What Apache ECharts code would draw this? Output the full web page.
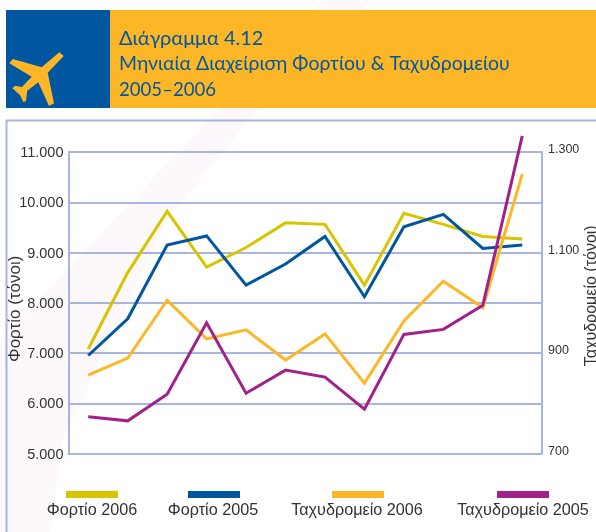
<!DOCTYPE html>
<html><head><meta charset="utf-8">
<style>html,body{margin:0;padding:0;background:#fff}#c{width:596px;height:532px}</style>
<script src="https://cdn.jsdelivr.net/npm/echarts@6/dist/echarts.min.js"></script>
</head><body><div id="c"></div>
<script>
const months = ['1','2','3','4','5','6','7','8','9','10','11','12'];
const cargo2006 = [7080,8600,9820,8710,9100,9590,9560,8350,9780,9560,9320,9270];
const cargo2005 = [6950,7680,9150,9330,8350,8770,9320,8120,9510,9760,9080,9150];
const mail2006 = [856,890,1005,928,946,886,938,840,964,1043,990,1256];
const mail2005 = [773,765,818,960,820,866,852,788,937,947,995,1332];
const seriesNames = ['Φορτίο 2006','Φορτίο 2005','Ταχυδρομείο 2006','Ταχυδρομείο 2005'];
const colors = ['#D8C400','#00569F','#FDB726','#A0218A'];
const titleLines = ['Διάγραμμα 4.12','Μηνιαία Διαχείριση Φορτίου & Ταχυδρομείου','2005–2006'];
const fmt = v => String(v).replace(/\B(?=(\d{3})+$)/g,'.');
const axisCol = '#A8B5DC', font = '"Liberation Sans"', txt = '#333';

const legendRects = [66,188,332,497], legendText = [92,213,357,523];
const graphic = [
 {type:'polygon',silent:true,z:-10,shape:{points:[[323,0],[372,0],[257,110],[167,220],[63,440],[50,532],[0,532],[0,340]]},style:{fill:'#FCF8FB'}},
 {type:'rect',z:1,shape:{x:6,y:10,width:104,height:98},style:{fill:'#00569F'}},
 {type:'rect',z:1,shape:{x:110,y:10,width:486,height:98},style:{fill:'#FDB726'}},
 {type:'polygon',z:2,shape:{points:[[59.3,52.3],[63.7,56],[47.7,72.7],[54,103.3],[49,106],[38.3,82.3],[27.3,90.7],[26,101],[23.3,102],[20,95],[12.3,88.3],[15,85.7],[22,87],[31.7,76.7],[9.3,63.3],[12.7,59],[41.7,67.3]]},style:{fill:'#FDB726'}},
 {type:'text',z:2,style:{text:titleLines[0],x:119,y:39,font:'20px Lato',fill:'#00569F',verticalAlign:'middle'}},
 {type:'text',z:2,style:{text:titleLines[1],x:119,y:64,font:'19.4px Lato',fill:'#00569F',verticalAlign:'middle'}},
 {type:'text',z:2,style:{text:titleLines[2],x:119,y:90,font:'18.6px Lato',fill:'#00569F',verticalAlign:'middle'}},
 {type:'polyline',z:0,shape:{points:[[6.5,532],[6.5,120.5],[596,120.5]]},style:{stroke:axisCol,lineWidth:2,fill:'none'}},
];
seriesNames.forEach((n,i)=>{
 graphic.push({type:'rect',shape:{x:legendRects[i],y:491,width:52,height:7},style:{fill:colors[i]}});
 graphic.push({type:'text',style:{text:n,x:legendText[i],y:511,font:'16.2px '+font,fill:txt,align:'center',verticalAlign:'middle'}});
});
const line = (i,data,yi)=>({name:seriesNames[i],type:'line',data,yAxisIndex:yi,symbol:'none',clip:false,
  lineStyle:{color:colors[i],width:3,join:'miter'},itemStyle:{color:colors[i]},z:5+i});
const chart = echarts.init(document.getElementById('c'),null,{renderer:'canvas'});
chart.setOption({
 animation:false,backgroundColor:'#fff',
 grid:{left:68.5,right:54,top:152,bottom:78.5,outerBoundsMode:'none',containLabel:false},
 xAxis:{type:'category',data:months,boundaryGap:true,axisTick:{show:false},axisLabel:{show:false},
   axisLine:{lineStyle:{color:axisCol,width:2}},splitLine:{show:false}},
 yAxis:[
  {type:'value',min:5000,max:11000,interval:1000,
   name:'Φορτίο (τόνοι)',nameLocation:'middle',nameGap:45,nameRotate:90,nameMoveOverlap:false,
   nameTextStyle:{fontFamily:font,fontSize:17,color:txt,padding:[0,12,0,0]},
   axisLine:{show:true,lineStyle:{color:axisCol,width:2}},axisTick:{show:false},
   axisLabel:{formatter:fmt,fontFamily:font,fontSize:14.5,color:txt,margin:5,verticalAlign:'top',lineHeight:2},
   splitLine:{show:true,lineStyle:{color:axisCol,width:2}}},
  {type:'value',min:700,max:1300,interval:200,position:'right',
   name:'Ταχυδρομείο (τόνοι)',nameLocation:'middle',nameGap:42,nameRotate:90,nameMoveOverlap:false,
   nameTextStyle:{fontFamily:font,fontSize:16,color:txt,padding:[0,0,0,14]},
   axisLine:{show:true,lineStyle:{color:axisCol,width:2}},axisTick:{show:false},
   axisLabel:{formatter:fmt,fontFamily:font,fontSize:12.5,color:txt,margin:6,verticalAlign:'bottom',lineHeight:4},
   splitLine:{show:false}}
 ],
 series:[line(0,cargo2006,0),line(1,cargo2005,0),line(2,mail2006,1),line(3,mail2005,1)],
 graphic
});
</script></body></html>
